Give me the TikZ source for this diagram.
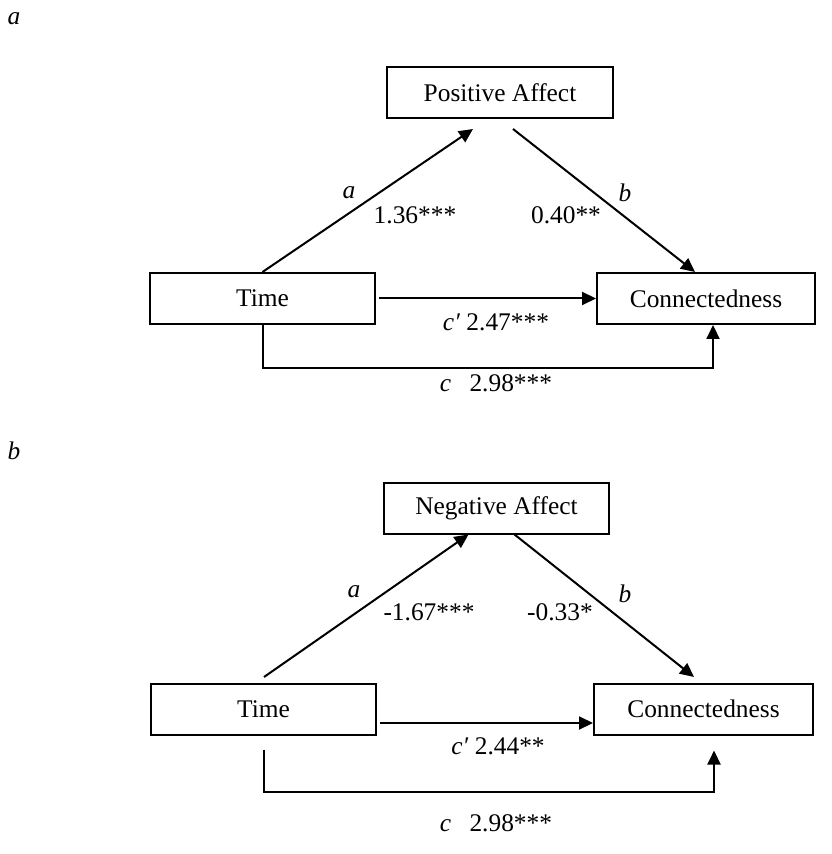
\documentclass[tikz,border=0pt]{standalone}
\usepackage{fontspec}
\setmainfont{Liberation Serif}
\usetikzlibrary{arrows.meta}

\begin{document}
\begin{tikzpicture}[x=0.5pt,y=-0.5pt,font=\fontsize{12.7}{14}\selectfont,
  box/.style={draw,line width=1pt,minimum height=25.5pt,inner sep=0pt},
  lbl/.style={inner sep=0pt},
  edge/.style={line width=1pt,->,>={Triangle[length=7pt,width=6.5pt]}}]
\useasboundingbox (0,0) rectangle (831,854);
% panel a
\node[lbl] (panela) at (14,19) {\textit{a}};
\node[box,minimum width=113pt] (pa) at (500,92.5) {Positive Affect};
\node[box,minimum width=112.5pt] (ta) at (262.5,298.5) {Time};
\node[box,minimum width=109pt] (ca) at (706,298.5) {Connectedness};
\coordinate (pa-in) at (473,129);
\coordinate (pa-out) at (513,129);
\draw[edge] (ta.north) -- (pa-in);
\draw[edge] (pa-out) -- ([xshift=-5.5pt]ca.north);
\draw[edge] ([xshift=1.5pt]ta.east) -- (ca.west);
\draw[edge] (ta.south) -- ++(0,43) -| ([xshift=3.5pt]ca.south);
\node[lbl] (a-a) at (349,193) {\textit{a}};
\node[lbl] (a-aval) at (415,215) {1.36***};
\node[lbl] (a-b) at (625,193) {\textit{b}};
\node[lbl] (a-bval) at (566,215) {0.40**};
\node[lbl] (a-cp) at (496,322) {\textit{c′} 2.47***};
\node[lbl] (a-c) at (496,383) {\textit{c}\hspace{6pt} 2.98***};
% panel b
\node[lbl] (panelb) at (14,451) {\textit{b}};
\node[box,minimum width=112.5pt] (na) at (496.5,508) {Negative Affect};
\node[box,minimum width=112.5pt] (tb) at (263.5,709) {Time};
\node[box,minimum width=109.5pt] (cb) at (703.5,709) {Connectedness};
\coordinate (tb-out) at (264,677);
\coordinate (cb-in) at (694,677);
\draw[edge] (tb-out) -- ([xshift=-14pt]na.south);
\draw[edge] ([xshift=9pt]na.south) -- (cb-in);
\draw[edge] ([xshift=1.5pt,yshift=-7pt]tb.east) -- ([yshift=-7pt]cb.west);
\draw[edge] ([yshift=-7pt]tb.south) -- ++(0,42) -| ([xshift=5.25pt,yshift=-7.5pt]cb.south);
\node[lbl] (b-a) at (354,592) {\textit{a}};
\node[lbl] (b-aval) at (429,612) {-1.67***};
\node[lbl] (b-b) at (625,594) {\textit{b}};
\node[lbl] (b-bval) at (560,612) {-0.33*};
\node[lbl] (b-cp) at (498,746) {\textit{c′} 2.44**};
\node[lbl] (b-c) at (496,823) {\textit{c}\hspace{6pt} 2.98***};
\end{tikzpicture}
\end{document}
